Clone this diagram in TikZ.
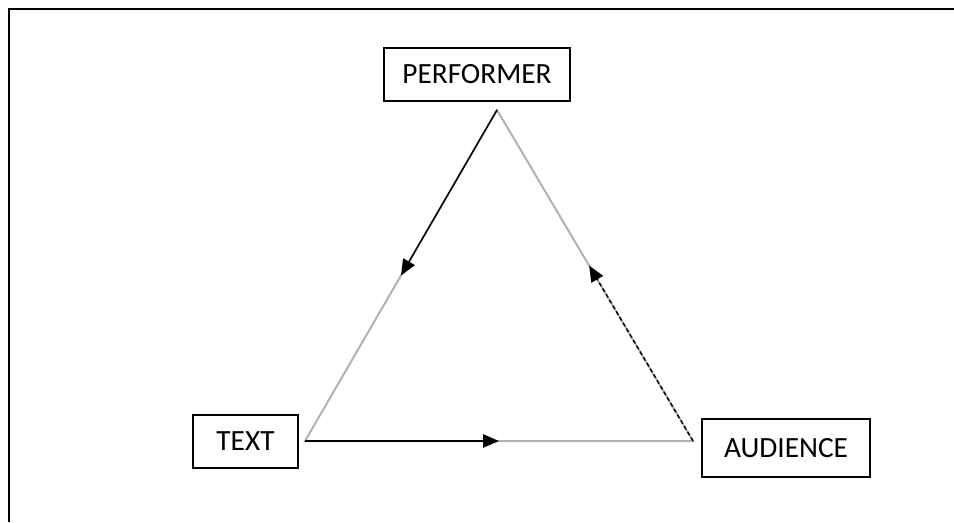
\documentclass[tikz,border=0pt]{standalone}
\usepackage{fontspec}
\setmainfont{Carlito}
\usetikzlibrary{arrows.meta, positioning, calc}

\begin{document}
\begin{tikzpicture}[
    x=0.75pt, y=-0.75pt,
    box/.style={rectangle, draw, line width=0.8pt, inner sep=0pt, font=\fontsize{22}{26}\selectfont},
    side/.style={draw=black!30, line width=1.5pt},
    flow/.style={-{Triangle[length=12pt, width=10pt]}, line width=1.1pt}
]
\useasboundingbox (0,0) rectangle (954,522);
\draw[line width=2pt] (9,522) -- (9,9) -- (954,9);

\node[box, minimum width=139.5pt, minimum height=39.75pt] (perf) at (477,74.5) {PERFORMER};
\node[box, minimum width=78.75pt, minimum height=39.75pt] (text) at (245.5,441.5) {TEXT};
\node[box, minimum width=126pt, minimum height=43.5pt] (aud) at (786,448) {AUDIENCE};

% corners of the triangle
\coordinate (top) at (497,110);
\coordinate (left) at (305,441);
\coordinate (right) at (693,441);

\draw[side] (top) -- (left) -- (right) -- cycle;

\draw[flow] (top) -- ($(top)!0.5!(left)$);
\draw[flow] (left) -- ($(left)!0.5!(right)$);
\draw[flow, dash pattern=on 3pt off 2pt] (right) -- ($(right)!0.53!(top)$);

\end{tikzpicture}
\end{document}
